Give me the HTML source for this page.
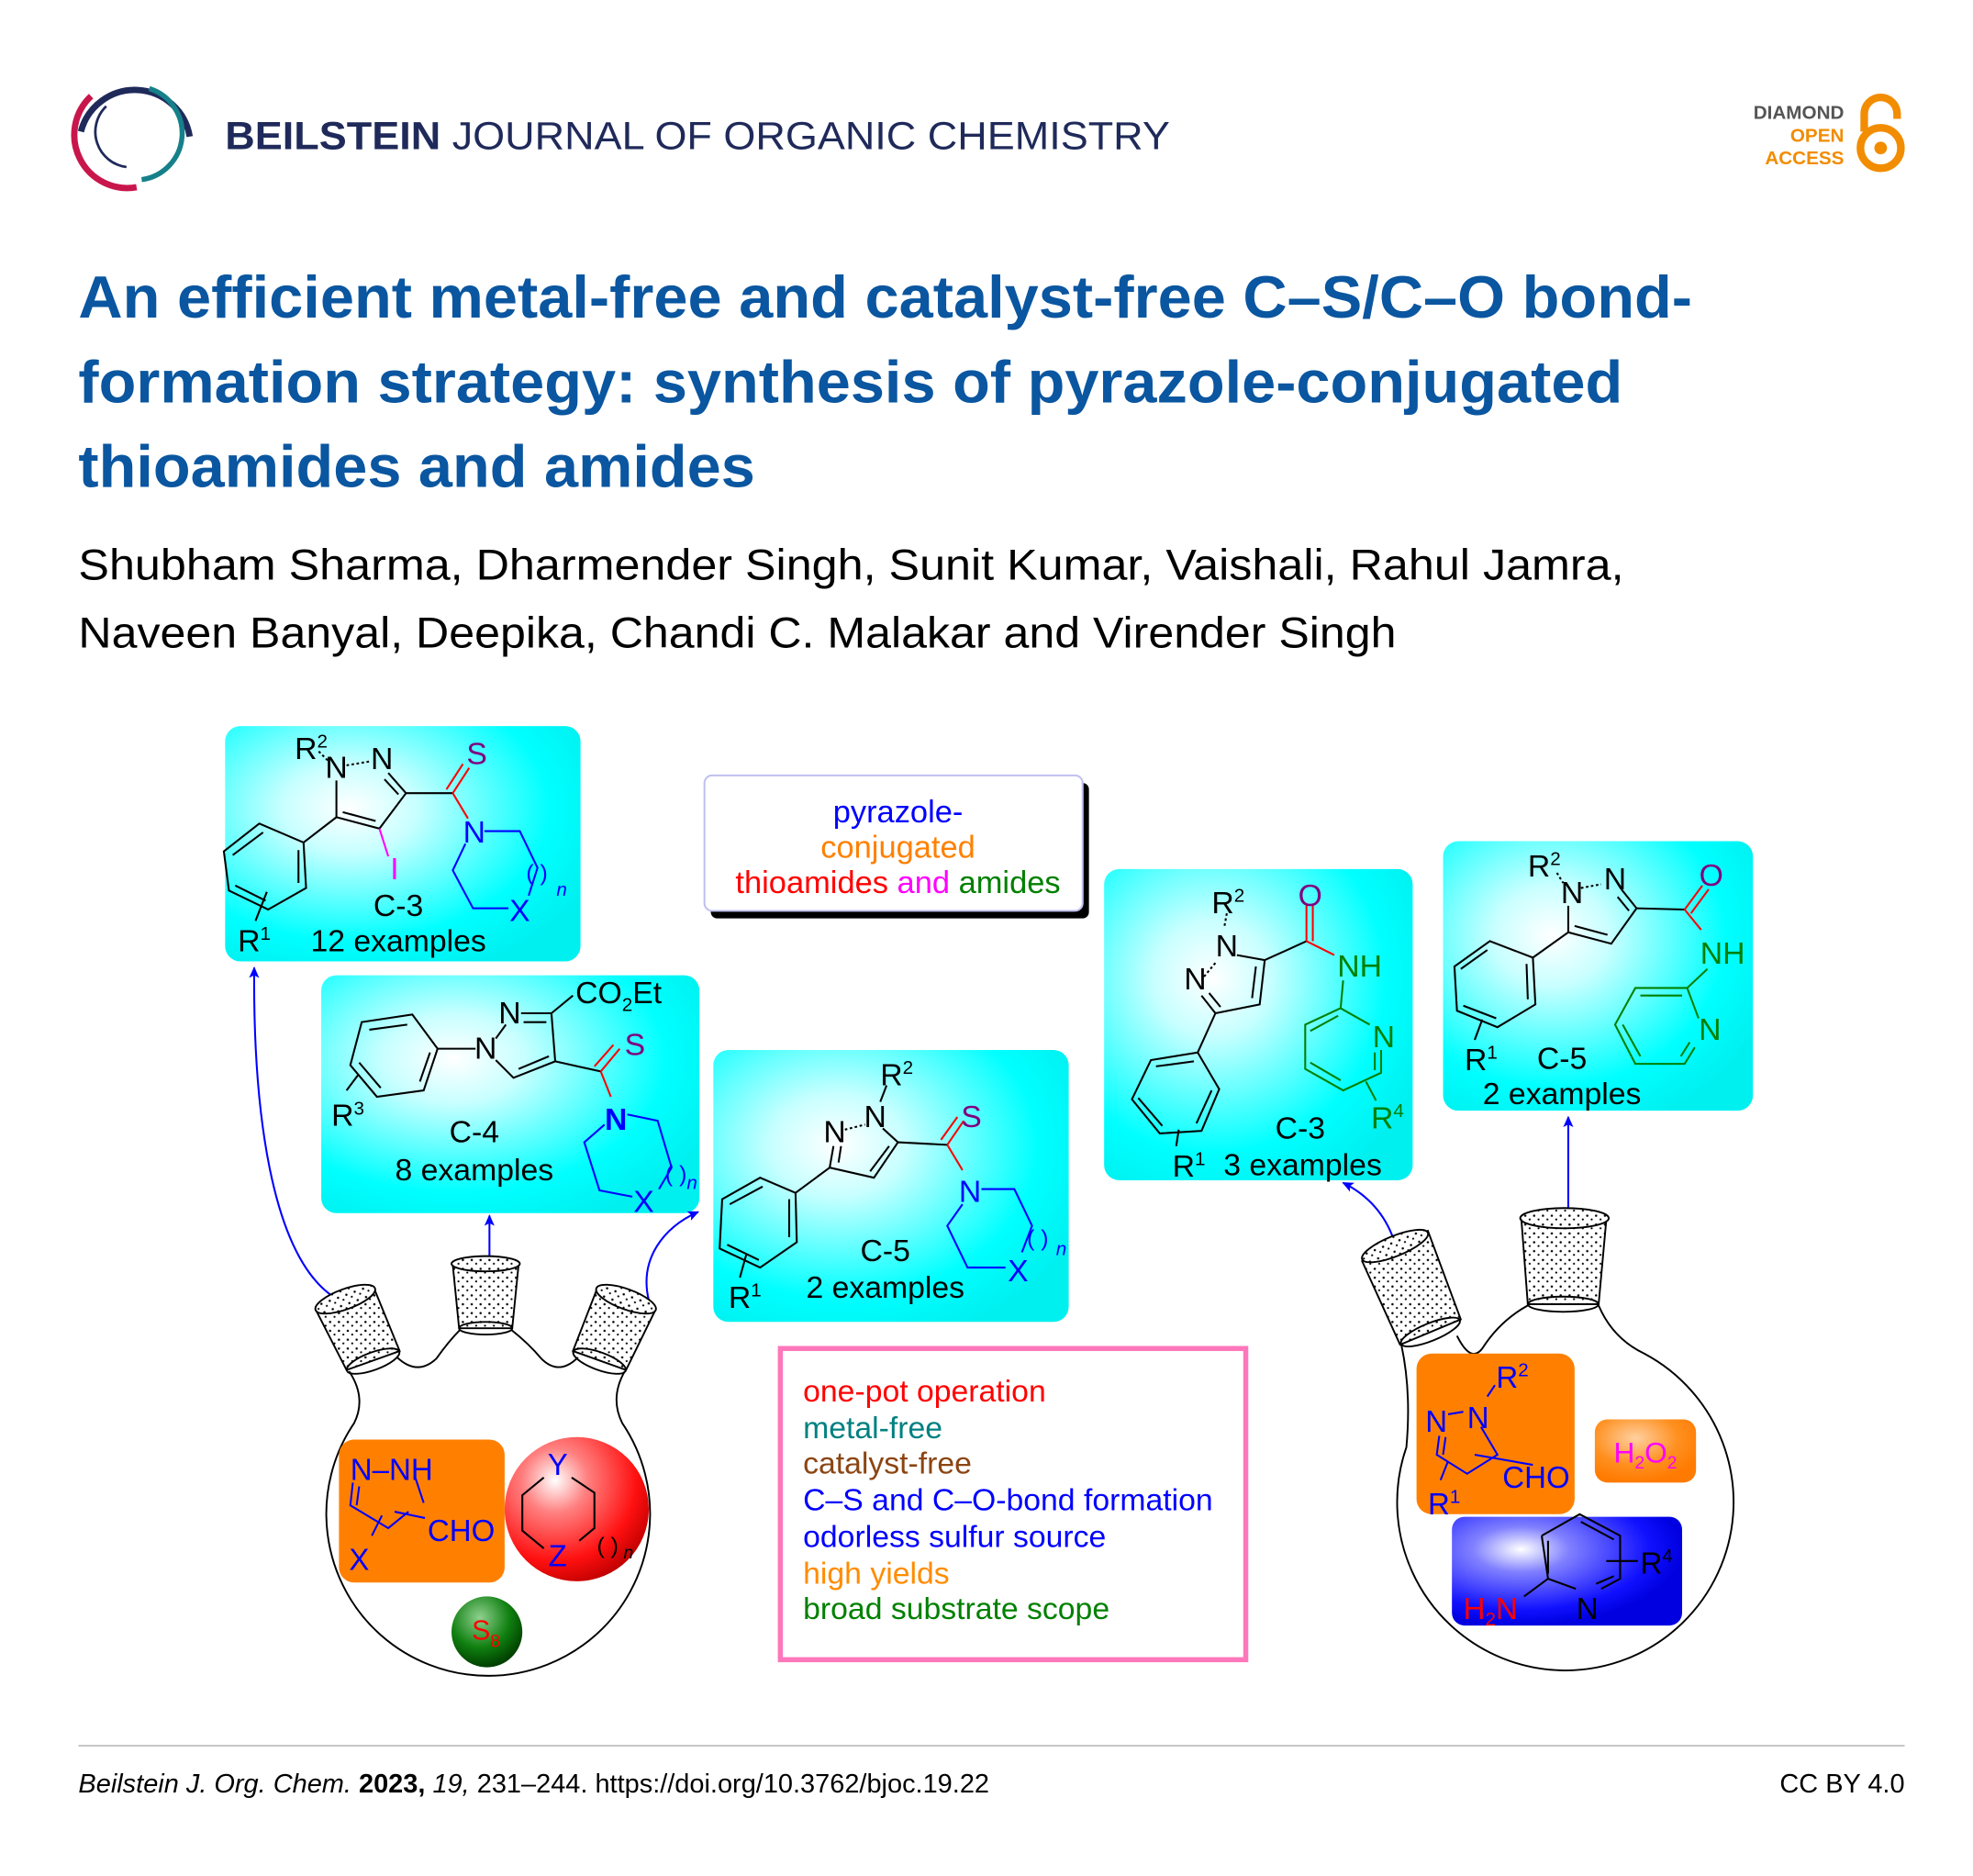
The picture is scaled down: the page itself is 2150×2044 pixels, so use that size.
<!DOCTYPE html>
<html><head><meta charset="utf-8"><style>
html,body{margin:0;padding:0;background:#fff;}
svg{display:block;}
text{font-family:"Liberation Sans",Arial,sans-serif;}
</style></head><body>
<svg width="2150" height="2044" viewBox="0 0 1560 1483" preserveAspectRatio="none" xmlns="http://www.w3.org/2000/svg">
<defs>
<radialGradient id="cy" cx="0.35" cy="0.35" r="0.75"><stop offset="0" stop-color="#ffffff"/><stop offset="0.25" stop-color="#c8ffff"/><stop offset="0.75" stop-color="#00ffff"/><stop offset="1" stop-color="#00f0f0"/></radialGradient>
<radialGradient id="red" cx="0.35" cy="0.3" r="0.75"><stop offset="0" stop-color="#fff"/><stop offset="0.3" stop-color="#ff8080"/><stop offset="0.75" stop-color="#ff1010"/><stop offset="1" stop-color="#c00000"/></radialGradient>
<radialGradient id="grn" cx="0.4" cy="0.3" r="0.7"><stop offset="0" stop-color="#8fd08f"/><stop offset="0.6" stop-color="#108010"/><stop offset="1" stop-color="#004000"/></radialGradient>
<radialGradient id="blu" cx="0.3" cy="0.3" r="0.7"><stop offset="0" stop-color="#ffffff"/><stop offset="0.3" stop-color="#8080ff"/><stop offset="0.8" stop-color="#1010ff"/><stop offset="1" stop-color="#0000e0"/></radialGradient>
<radialGradient id="org" cx="0.4" cy="0.3" r="0.7"><stop offset="0" stop-color="#ffd0a0"/><stop offset="0.6" stop-color="#ff9020"/><stop offset="1" stop-color="#ff7a00"/></radialGradient>
<pattern id="dots" width="7" height="7" patternUnits="userSpaceOnUse"><rect width="7" height="7" fill="#fff"/><circle cx="2" cy="2" r="0.9" fill="#000"/><circle cx="5.5" cy="5" r="0.8" fill="#000"/></pattern>
<marker id="ar" markerWidth="10" markerHeight="10" refX="8" refY="5" orient="auto" markerUnits="userSpaceOnUse"><path d="M0 1 L9 5 L0 9 L2 5 Z" fill="#0000ff"/></marker>
</defs>

<!-- Logo -->
<path d="M64 104 A44 44 0 0 1 150 108" fill="none" stroke="#1f2a5a" stroke-width="5"/>
<path d="M72 76 A42 42 0 0 0 108 148" fill="none" stroke="#c8164c" stroke-width="5"/>
<path d="M118 70 A37 37 0 0 1 112 142" fill="none" stroke="#16808a" stroke-width="4"/>
<path d="M84 84 A28 28 0 0 0 100 132" fill="none" stroke="#1f2a5a" stroke-width="2"/>
<text x="178" y="118" font-size="31" fill="#1f2a5a" textLength="747" lengthAdjust="spacingAndGlyphs"><tspan font-weight="bold">BEILSTEIN</tspan> JOURNAL OF ORGANIC CHEMISTRY</text>

<!-- Diamond OA -->
<text x="1458" y="94" font-size="15" font-weight="bold" fill="#555" text-anchor="end">DIAMOND</text>
<text x="1458" y="112" font-size="15" font-weight="bold" fill="#f28c00" text-anchor="end">OPEN</text>
<text x="1458" y="130" font-size="15" font-weight="bold" fill="#f28c00" text-anchor="end">ACCESS</text>
<path d="M1474 104 L1474 90 A13 13 0 0 1 1500 90 L1500 94" fill="none" stroke="#f28c00" stroke-width="6"/>
<circle cx="1487" cy="117" r="16" fill="none" stroke="#f28c00" stroke-width="6"/>
<circle cx="1487" cy="117" r="5" fill="#f28c00"/>

<!-- Title -->
<g font-size="47" font-weight="bold" fill="#0a56a0">
<text x="62" y="251" textLength="1276" lengthAdjust="spacingAndGlyphs">An efficient metal-free and catalyst-free C–S/C–O bond-</text>
<text x="62" y="318" textLength="1221" lengthAdjust="spacingAndGlyphs">formation strategy: synthesis of pyrazole-conjugated</text>
<text x="62" y="385" textLength="535" lengthAdjust="spacingAndGlyphs">thioamides and amides</text>
</g>
<g font-size="34" fill="#000">
<text x="62" y="458" textLength="1222" lengthAdjust="spacingAndGlyphs">Shubham Sharma, Dharmender Singh, Sunit Kumar, Vaishali, Rahul Jamra,</text>
<text x="62" y="512" textLength="1042" lengthAdjust="spacingAndGlyphs">Naveen Banyal, Deepika, Chandi C. Malakar and Virender Singh</text>
</g>

<!-- Cyan boxes -->
<rect x="178" y="574" width="281" height="186" rx="12" fill="url(#cy)"/>
<rect x="254" y="771" width="299" height="188" rx="12" fill="url(#cy)"/>
<rect x="564" y="830" width="281" height="215" rx="12" fill="url(#cy)"/>
<rect x="873" y="687" width="244" height="246" rx="12" fill="url(#cy)"/>
<rect x="1141" y="665" width="245" height="213" rx="12" fill="url(#cy)"/>

<!-- Title box -->
<rect x="562" y="619" width="299" height="107" rx="5" fill="#000"/>
<rect x="557" y="613" width="299" height="107" rx="6" fill="#fff" stroke="#c0c0f0" stroke-width="1.5"/>
<g font-size="25" text-anchor="middle">
<text x="710" y="650" fill="#0000ff">pyrazole-</text>
<text x="710" y="678" fill="#ff8000">conjugated</text>
<text x="710" y="706"><tspan fill="#ff0000">thioamides</tspan> <tspan fill="#ff00ff">and</tspan> <tspan fill="#008000">amides</tspan></text>
</g>

<!-- Pink box -->
<rect x="617" y="1066" width="368" height="246" fill="#fff" stroke="#ff77bb" stroke-width="4"/>
<g font-size="24.5">
<text x="635" y="1108" fill="#ff0000">one-pot operation</text>
<text x="635" y="1137" fill="#008080">metal-free</text>
<text x="635" y="1165" fill="#8b4513">catalyst-free</text>
<text x="635" y="1194" fill="#0000ff">C–S and C–O-bond formation</text>
<text x="635" y="1223" fill="#0000ff">odorless sulfur source</text>
<text x="635" y="1252" fill="#ff8c00">high yields</text>
<text x="635" y="1280" fill="#008000">broad substrate scope</text>
</g>

<!-- Box1 structure -->
<g stroke="#000" stroke-width="1.5" fill="none">
<path d="M266 617 L266 646 L300 655 L321 627 L307 611"/>
<path d="M271 642 L297 649 M315 628 L304 616"/>
<path d="M274 605 L292 602" stroke-dasharray="2 2"/>
<path d="M252 594 L260 602" stroke-dasharray="2 2"/>
<path d="M266 646 L240 666"/>
<polygon points="240,666 205,651 177,673 181,704 212,719 242,702"/>
<path d="M208 658 L184 676 M186 700 L210 712 M236 698 L236 672"/>
<path d="M211 705 L202 728"/>
<path d="M321 627 L358 627"/>
</g>
<path d="M300 655 L307 677" stroke="#ff00ff" stroke-width="1.5"/>
<path d="M358 627 L371 607 M353 624 L366 604 M358 627 L370 647" stroke="#ff0000" stroke-width="1.5" fill="none"/>
<path d="M383 657 L411 657 L425 686 L418 708 M402 718 L374 718 L358 688 L368 667" stroke="#0000ff" stroke-width="1.5" fill="none"/>
<g font-size="24.5">
<text x="233" y="600">R<tspan font-size="15" dy="-9">2</tspan></text>
<text x="266" y="615" text-anchor="middle">N</text>
<text x="302" y="608" text-anchor="middle">N</text>
<text x="377" y="604" text-anchor="middle" fill="#800080">S</text>
<text x="375" y="666" text-anchor="middle" fill="#0000ff">N</text>
<text x="312" y="695" text-anchor="middle" fill="#ff00ff">I</text>
<text x="411" y="728" text-anchor="middle" fill="#0000ff">X</text>
<text x="416" y="696" font-size="18" fill="#0000ff">(  )</text>
<text x="440" y="708" font-size="15" font-style="italic" fill="#0000ff">n</text>
<text x="315" y="724" text-anchor="middle">C-3</text>
<text x="315" y="752" text-anchor="middle">12 examples</text>
<text x="188" y="752">R<tspan font-size="15" dy="-9">1</tspan></text>
</g>

<!-- Box2 structure -->
<g stroke="#000" stroke-width="1.5" fill="none">
<path d="M392 838 L406 852 L439 839 L436 801 L412 801"/>
<path d="M410 845 L434 835 M432 808 L414 808"/>
<path d="M400 810 L392 821"/>
<path d="M376 829 L346 829"/>
<polygon points="346,829 326,802 286,808 277,842 298,867 335,862"/>
<path d="M322 810 L292 814 M284 840 L301 860 M332 855 L340 832"/>
<path d="M283 850 L274 862"/>
<path d="M436 801 L453 787"/>
<path d="M439 839 L475 847"/>
</g>
<path d="M475 847 L490 829 M470 843 L485 826 M475 847 L483 867" stroke="#ff0000" stroke-width="1.5" fill="none"/>
<path d="M496 881 L520 886 L531 923 L521 940 M500 946 L474 941 L462 903 L478 889" stroke="#0000ff" stroke-width="1.5" fill="none"/>
<g font-size="24.5">
<text x="403" y="809" text-anchor="middle">N</text>
<text x="384" y="837" text-anchor="middle">N</text>
<text x="455" y="793">CO<tspan font-size="15" dy="6">2</tspan><tspan dy="-6">Et</tspan></text>
<text x="502" y="834" text-anchor="middle" fill="#800080">S</text>
<text x="487" y="893" text-anchor="middle" fill="#0000ff" font-weight="bold">N</text>
<text x="509" y="958" text-anchor="middle" fill="#0000ff">X</text>
<text x="526" y="934" font-size="18" fill="#0000ff">(  )</text>
<text x="543" y="940" font-size="15" font-style="italic" fill="#0000ff">n</text>
<text x="262" y="890">R<tspan font-size="15" dy="-9">3</tspan></text>
<text x="375" y="903" text-anchor="middle">C-4</text>
<text x="375" y="933" text-anchor="middle">8 examples</text>
</g>

<!-- Box3 structure -->
<g stroke="#000" stroke-width="1.5" fill="none">
<path d="M698 892 L710 903 L691 931 L656 923 L659 906"/>
<path d="M703 906 L688 926 M663 919 L665 906"/>
<path d="M668 893 L684 889" stroke-dasharray="2 2"/>
<path d="M701 858 L696 871"/>
<path d="M710 903 L749 905"/>
<path d="M656 923 L629 943"/>
<polygon points="629,943 601,931 571,948 569,987 601,1002 630,982"/>
<path d="M603 938 L577 952 M575 984 L600 996 M624 978 L624 948"/>
<path d="M590 992 L585 1010"/>
</g>
<path d="M749 905 L762 886 M744 901 L757 883 M749 905 L761 925" stroke="#ff0000" stroke-width="1.5" fill="none"/>
<path d="M776 940 L802 940 L816 969 L808 990 M795 1002 L765 1002 L749 969 L761 952" stroke="#0000ff" stroke-width="1.5" fill="none"/>
<g font-size="24.5">
<text x="696" y="858">R<tspan font-size="15" dy="-9">2</tspan></text>
<text x="692" y="891" text-anchor="middle">N</text>
<text x="660" y="903" text-anchor="middle">N</text>
<text x="768" y="891" text-anchor="middle" fill="#800080">S</text>
<text x="767" y="950" text-anchor="middle" fill="#0000ff">N</text>
<text x="805" y="1013" text-anchor="middle" fill="#0000ff">X</text>
<text x="812" y="985" font-size="18" fill="#0000ff">(  )</text>
<text x="835" y="992" font-size="15" font-style="italic" fill="#0000ff">n</text>
<text x="576" y="1034">R<tspan font-size="15" dy="-9">1</tspan></text>
<text x="700" y="997" text-anchor="middle">C-5</text>
<text x="700" y="1026" text-anchor="middle">2 examples</text>
</g>

<!-- Box4 structure -->
<g stroke="#000" stroke-width="1.5" fill="none">
<path d="M978 755 L1000 759 L996 794 L961 801 L950 787"/>
<path d="M993 764 L990 789 M965 796 L956 785"/>
<path d="M952 772 L962 760" stroke-dasharray="2 2"/>
<path d="M970 722 L968 733" stroke-dasharray="2 2"/>
<path d="M1000 759 L1033 744"/>
<path d="M961 801 L947 832"/>
<polygon points="947,832 964,861 950,894 917,896 895,869 910,838"/>
<path d="M944 839 L914 843 M900 868 L919 890 M958 862 L946 888"/>
<path d="M932 893 L930 906"/>
</g>
<path d="M1033 744 L1033 715 M1038 744 L1038 715 M1033 744 L1055 755" stroke="#ff0000" stroke-width="1.5" fill="none"/>
<path d="M1062 775 L1060 797 L1083 810 M1092 830 L1092 848 L1062 862 L1032 845 L1032 810 L1060 797 M1036 815 L1058 803 M1036 840 L1060 854 M1087 832 L1087 846 M1080 855 L1088 870" stroke="#008000" stroke-width="1.5" fill="none"/>
<g font-size="24.5">
<text x="958" y="722">R<tspan font-size="15" dy="-9">2</tspan></text>
<text x="970" y="756" text-anchor="middle">N</text>
<text x="945" y="782" text-anchor="middle">N</text>
<text x="1036" y="716" text-anchor="middle" fill="#800080">O</text>
<text x="1075" y="772" text-anchor="middle" fill="#008000">NH</text>
<text x="1094" y="828" text-anchor="middle" fill="#008000">N</text>
<text x="1084" y="892" fill="#008000">R<tspan font-size="15" dy="-9">4</tspan></text>
<text x="927" y="930">R<tspan font-size="15" dy="-9">1</tspan></text>
<text x="1028" y="900" text-anchor="middle">C-3</text>
<text x="1030" y="929" text-anchor="middle">3 examples</text>
</g>

<!-- Box5 structure -->
<g stroke="#000" stroke-width="1.5" fill="none">
<path d="M1240 716 L1240 737 L1274 746 L1294 718 L1282 703"/>
<path d="M1245 732 L1271 739 M1288 720 L1279 709"/>
<path d="M1250 702 L1266 699" stroke-dasharray="2 2"/>
<path d="M1231 690 L1236 698" stroke-dasharray="2 2"/>
<path d="M1294 718 L1332 719"/>
<path d="M1240 737 L1212 757"/>
<polygon points="1212,757 1178,744 1150,764 1152,799 1184,812 1214,794"/>
<path d="M1176 751 L1155 766 M1157 795 L1183 805 M1208 790 L1207 762"/>
<path d="M1172 806 L1166 822"/>
</g>
<path d="M1332 719 L1346 700 M1337 722 L1351 703 M1332 719 L1345 735" stroke="#ff0000" stroke-width="1.5" fill="none"/>
<path d="M1350 766 L1334 781 L1293 781 L1277 810 L1293 841 L1332 841 L1340 828 M1343 805 L1334 781 M1297 787 L1330 787 M1283 810 L1297 835 M1329 835 L1336 824" stroke="#008000" stroke-width="1.5" fill="none"/>
<g font-size="24.5">
<text x="1208" y="693">R<tspan font-size="15" dy="-9">2</tspan></text>
<text x="1243" y="714" text-anchor="middle">N</text>
<text x="1277" y="703" text-anchor="middle">N</text>
<text x="1353" y="700" text-anchor="middle" fill="#800080">O</text>
<text x="1362" y="762" text-anchor="middle" fill="#008000">NH</text>
<text x="1352" y="822" text-anchor="middle" fill="#008000">N</text>
<text x="1158" y="846">R<tspan font-size="15" dy="-9">1</tspan></text>
<text x="1235" y="845" text-anchor="middle">C-5</text>
<text x="1235" y="873" text-anchor="middle">2 examples</text>
</g>

<!-- Arrows -->
<g stroke="#0000ff" stroke-width="1.5" fill="none" marker-end="url(#ar)">
<path d="M262 1024 C215 990 200 880 201 765"/>
<path d="M387 993 L387 961"/>
<path d="M513 1028 C505 995 525 970 552 958"/>
<path d="M1102 980 C1095 960 1082 945 1062 935"/>
<path d="M1240 955 L1240 883"/>
</g>

<!-- Left flask -->
<g stroke="#000" stroke-width="1.4">
<path d="M276 1084 Q290 1105 280 1125 A128 128 0 1 0 492 1125 Q482 1105 494 1084" fill="#fff"/>
<path d="M314 1073 Q330 1088 345 1074 Q355 1060 364 1051 M404 1051 Q418 1062 428 1074 Q442 1088 457 1073" fill="none"/>
<path d="M250 1036 L274 1083 L316 1068 L296 1019 Z" fill="url(#dots)"/>
<ellipse cx="273" cy="1027" rx="25" ry="8" transform="rotate(-20 273 1027)" fill="url(#dots)"/>
<ellipse cx="295" cy="1076" rx="22" ry="7" transform="rotate(-20 295 1076)" fill="none"/>
<path d="M358 1000 L363 1050 L405 1050 L410 1000 Z" fill="url(#dots)"/>
<ellipse cx="384" cy="999" rx="27" ry="6" fill="url(#dots)"/>
<ellipse cx="384" cy="1050" rx="21" ry="5" fill="none"/>
<path d="M518 1036 L495 1083 L453 1068 L472 1019 Z" fill="url(#dots)"/>
<ellipse cx="495" cy="1027" rx="25" ry="8" transform="rotate(20 495 1027)" fill="url(#dots)"/>
<ellipse cx="474" cy="1076" rx="22" ry="7" transform="rotate(20 474 1076)" fill="none"/>
</g>
<rect x="268" y="1138" width="131" height="113" rx="12" fill="#ff8000"/>
<path d="M279 1172 L277 1190 L307 1208 L323 1195 M284 1175 L282 1190 M335 1188 L328 1167 M312 1195 L336 1200 M302 1198 L294 1214" stroke="#0000ff" stroke-width="1.5" fill="none"/>
<g font-size="24" fill="#0000ff">
<text x="277" y="1170">N–NH</text>
<text x="338" y="1218">CHO</text>
<text x="276" y="1241">X</text>
</g>
<circle cx="456" cy="1193" r="57" fill="url(#red)"/>
<path d="M430 1168 L413 1182 L413 1210 L430 1224 M452 1168 L470 1180 L470 1208 L458 1218" stroke="#000" stroke-width="1.5" fill="none"/>
<g font-size="24" fill="#0000ff">
<text x="441" y="1166" text-anchor="middle">Y</text>
<text x="441" y="1238" text-anchor="middle">Z</text>
</g>
<text x="472" y="1228" font-size="18">(  )</text>
<text x="493" y="1232" font-size="14" font-style="italic">n</text>
<circle cx="385" cy="1290" r="28" fill="url(#grn)"/>
<text x="373" y="1296" font-size="22" fill="#ff0000">S<tspan font-size="14" dy="6">8</tspan></text>

<!-- Right flask -->
<g stroke="#000" stroke-width="1.4">
<path d="M1108 1063 Q1116 1100 1112 1144 A133 133 0 1 0 1300 1070 Q1275 1058 1264 1032" fill="#fff"/>
<path d="M1152 1056 Q1163 1078 1172 1066 Q1186 1044 1208 1032" fill="none"/>
<path d="M1077 997 L1107 1063 L1155 1043 L1129 973 Z" fill="url(#dots)"/>
<ellipse cx="1103" cy="985" rx="28" ry="8" transform="rotate(-22 1103 985)" fill="url(#dots)"/>
<ellipse cx="1131" cy="1053" rx="25" ry="7" transform="rotate(-22 1131 1053)" fill="none"/>
<path d="M1203 965 L1208 1031 L1264 1031 L1270 965 Z" fill="url(#dots)"/>
<ellipse cx="1237" cy="963" rx="35" ry="8" fill="url(#dots)"/>
<ellipse cx="1236" cy="1031" rx="28" ry="6" fill="none"/>
</g>
<rect x="1120" y="1070" width="125" height="127" rx="12" fill="#ff8000"/>
<path d="M1145 1118 L1157 1116 M1176 1104 L1182 1095 M1171 1128 L1184 1150 L1160 1165 L1136 1150 L1138 1135 M1141 1150 L1143 1136 M1166 1150 L1212 1158 M1145 1155 L1139 1170" stroke="#0000ff" stroke-width="1.5" fill="none"/>
<g font-size="24" fill="#0000ff">
<text x="1183" y="1097">R<tspan font-size="15" dy="-9">2</tspan></text>
<text x="1127" y="1132">N</text>
<text x="1160" y="1129">N</text>
<text x="1188" y="1176">CHO</text>
<text x="1129" y="1197">R<tspan font-size="15" dy="-9">1</tspan></text>
</g>
<rect x="1261" y="1122" width="80" height="50" rx="10" fill="url(#org)"/>
<text x="1301" y="1156" font-size="23" fill="#ff00ff" text-anchor="middle">H<tspan font-size="14" dy="5">2</tspan><tspan dy="-5">O</tspan><tspan font-size="14" dy="5">2</tspan></text>
<rect x="1148" y="1199" width="182" height="86" rx="10" fill="url(#blu)"/>
<path d="M1219 1214 L1249 1197 L1281 1214 L1281 1248 L1266 1256 M1246 1256 L1224 1248 L1219 1214 M1224 1218 L1224 1244 M1250 1203 L1276 1217 M1276 1246 L1262 1252 M1224 1248 L1205 1262 M1270 1234 L1295 1234" stroke="#000" stroke-width="1.5" fill="none"/>
<text x="1255" y="1280" font-size="24" text-anchor="middle">N</text>
<text x="1157" y="1280" font-size="24" fill="#ff0000">H<tspan font-size="15" dy="5">2</tspan><tspan dy="-5">N</tspan></text>
<text x="1297" y="1244" font-size="24">R<tspan font-size="15" dy="-9">4</tspan></text>

<!-- Footer -->
<line x1="62" y1="1380" x2="1506" y2="1380" stroke="#c8c8c8" stroke-width="1.5"/>
<text x="62" y="1417" font-size="21"><tspan font-style="italic">Beilstein J. Org. Chem.</tspan> <tspan font-weight="bold">2023,</tspan> <tspan font-style="italic">19,</tspan> 231–244. https://doi.org/10.3762/bjoc.19.22</text>
<text x="1506" y="1417" font-size="21" text-anchor="end">CC BY 4.0</text>
</svg>
</body></html>
